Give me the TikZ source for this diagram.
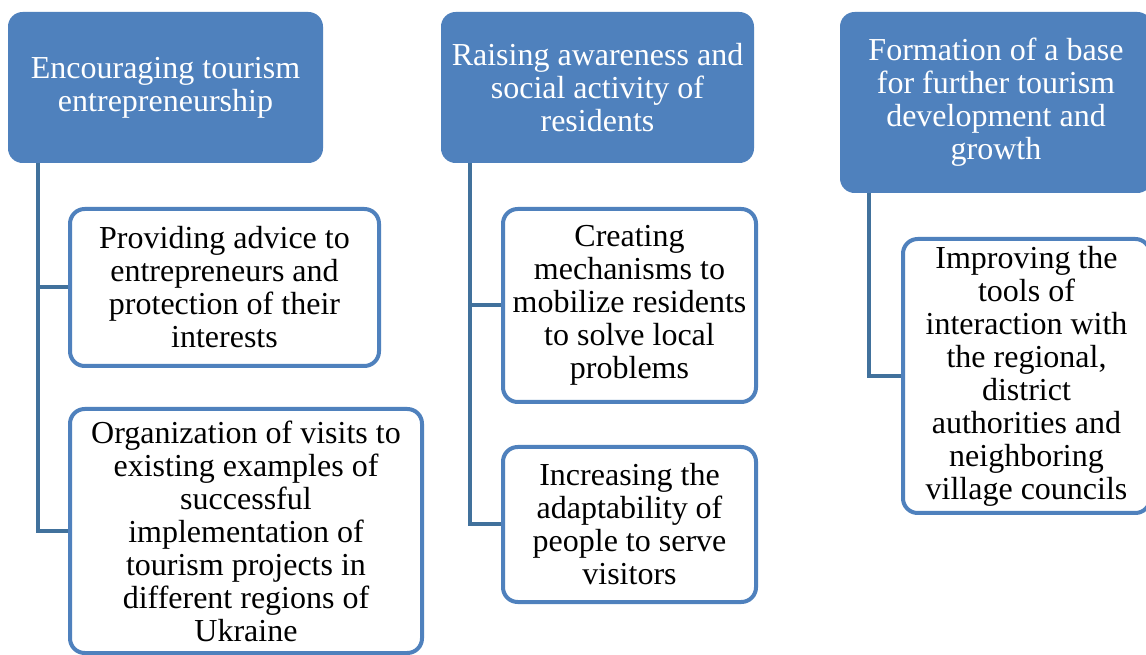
\documentclass[tikz,border=0pt]{standalone}
\usepackage{fontspec}
\setmainfont{Liberation Serif}
\newfontfamily\boxfont{Liberation Serif}
\usetikzlibrary{positioning}
\definecolor{headblue}{HTML}{4F81BD}
\definecolor{linkblue}{HTML}{41719C}

\begin{document}
\begin{tikzpicture}[x=0.75pt, y=-0.75pt,
      head/.style={rounded corners=11pt, fill=headblue, text=white, align=center,
                   font=\boxfont\fontsize{24}{24.75}\selectfont, inner sep=0pt},
      item/.style={rounded corners=11pt, draw=headblue, line width=3pt, fill=white,
                   align=center, font=\boxfont\fontsize{24}{24.75}\selectfont, inner sep=0pt},
      link/.style={draw=linkblue, line width=3pt}
    ]
      \useasboundingbox[fill=white] (0,0) rectangle (1146,655);

      % headers
      \node[head, minimum width=236.25pt, minimum height=113.25pt] (h1) at (165.5,87.5)
        {Encouraging tourism\\entrepreneurship};
      \node[head, minimum width=234.75pt, minimum height=113.25pt] (h2) at (597.5,87.5)
        {Raising awareness and\\social activity of\\residents};
      \node[head, minimum width=234pt, minimum height=135.75pt] (h3) at (996,102.5)
        {Formation of a base\\for further tourism\\development and\\growth};

      % items under each header
      \node[item, minimum width=231.75pt, minimum height=117.75pt] (c1a) at (224.5,287.5)
        {Providing advice to\\entrepreneurs and\\protection of their\\interests};
      \node[item, minimum width=264pt, minimum height=183pt] (c1b) at (246,531)
        {Organization of visits to\\existing examples of\\successful\\implementation of\\tourism projects in\\different regions of\\Ukraine};
      \node[item, minimum width=189.75pt, minimum height=144.75pt] (c2a) at (629.5,305.5)
        {Creating\\mechanisms to\\mobilize residents\\to solve local\\problems};
      \node[item, minimum width=189.75pt, minimum height=116.25pt] (c2b) at (629.5,524.5)
        {Increasing the\\adaptability of\\people to serve\\visitors};
      \node[item, minimum width=185.25pt, minimum height=205.5pt] (c3a) at (1026.5,376)
        {Improving the\\tools of\\interaction with\\the regional,\\district\\authorities and\\neighboring\\village councils};

      % connectors
      \draw[link] ([xshift=22.5pt]h1.south west) |- (c1a.west);
      \draw[link] ([xshift=22.5pt]h1.south west) |- (c1b.west);
      \draw[link] ([xshift=22pt]h2.south west) |- (c2a.west);
      \draw[link] ([xshift=22pt]h2.south west) |- (c2b.west);
      \draw[link] ([xshift=22pt]h3.south west) |- (c3a.west);
    \end{tikzpicture}
\end{document}
